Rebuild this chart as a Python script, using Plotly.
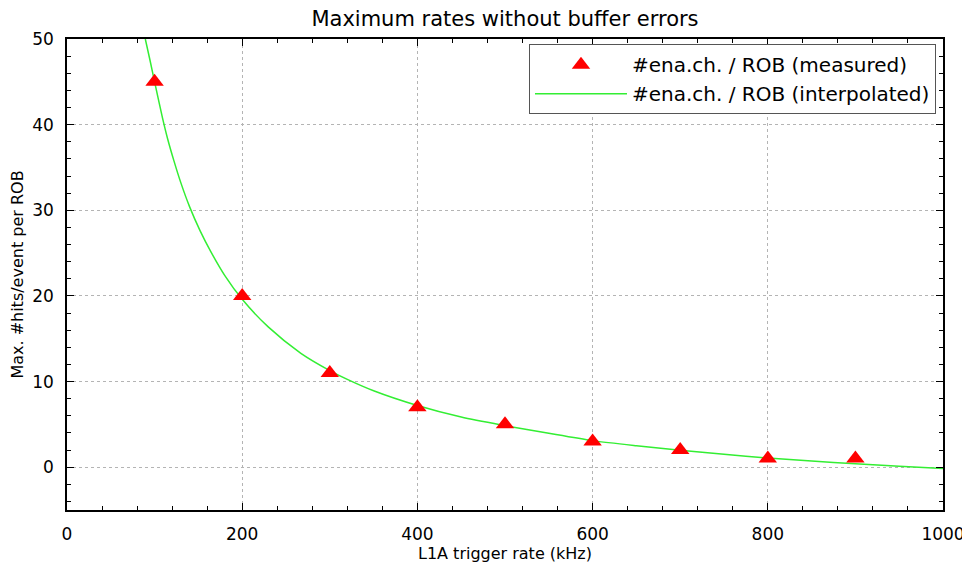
import plotly.graph_objects as go

# Measured points
rate_measured = [100, 200, 300, 400, 500, 600, 700, 800, 900]
hits_measured = [45, 20, 11, 7, 5, 3, 2, 1, 1]

# Interpolated curve
rate_interp = [89.4, 95, 100, 109, 115, 122, 130, 140, 152, 164, 180, 200, 230, 267, 300,
               320, 350, 400, 450, 500, 550, 600, 650, 700, 750, 800, 850, 900, 950, 1000]
hits_interp = [50.0, 47.4, 45.0, 40.8, 38.3, 35.8, 33.2, 30.4, 27.6, 25.2, 22.4, 19.6, 16.35, 13.3, 11.28,
               10.25, 8.92, 7.2, 5.85, 4.85, 3.95, 3.1, 2.5, 1.98, 1.5, 1.08, 0.72, 0.4, 0.1, -0.15]

title_text = "Maximum rates without buffer errors"
x_title = "L1A trigger rate (kHz)"
y_title = "Max. #hits/event per ROB"
name_measured = "#ena.ch. / ROB (measured)"
name_interp = "#ena.ch. / ROB (interpolated)"

FONT = "DejaVu Sans"

fig = go.Figure()
fig.add_trace(go.Scatter(
    x=rate_interp, y=hits_interp, mode="lines", name=name_interp,
    line=dict(color="#33ee33", width=1.5, shape="spline", smoothing=0.8),
))
fig.add_trace(go.Scatter(
    x=rate_measured, y=hits_measured, mode="markers", name=name_measured,
    marker=dict(symbol="triangle-up", size=16, color="#ff0000", line=dict(width=0)),
))

axis_common = dict(
    showline=True, linecolor="black", linewidth=1.5, mirror="ticks",
    ticks="inside", ticklen=7, tickwidth=1, tickcolor="black",
    showgrid=True, gridcolor="#b4b4b4", griddash="dot", gridwidth=1,
    zeroline=False, automargin=False,
    tickfont=dict(family=FONT, size=17, color="black"),
    ticklabelstandoff=8,
)

fig.update_xaxes(
    range=[0, 1000], dtick=200, tick0=0,
    minor=dict(dtick=40, ticks="inside", ticklen=4, tickcolor="black", showgrid=False),
    title=dict(text=x_title, font=dict(family=FONT, size=16, color="black"), standoff=4),
    **axis_common,
)
fig.update_yaxes(
    range=[-5, 50], dtick=10, tick0=0,
    minor=dict(dtick=2, ticks="inside", ticklen=4, tickcolor="black", showgrid=False),
    title=dict(text=y_title, font=dict(family=FONT, size=16, color="black"), standoff=6),
    **axis_common,
)

fig.update_layout(
    width=970, height=563,
    margin=dict(l=59, r=35, t=31, b=61, autoexpand=False),
    paper_bgcolor="white", plot_bgcolor="white",
    title=dict(text=title_text, x=0.5, xref="paper", y=1 - 11 / 563, yref="container",
               yanchor="middle", automargin=False,
               font=dict(family=FONT, size=21, color="black")),
    legend=dict(
        x=0.992, y=0.989, xanchor="right", yanchor="top",
        bgcolor="white", bordercolor="#555555", borderwidth=1,
        font=dict(family=FONT, size=20, color="black"),
        traceorder="reversed", itemwidth=92,
    ),
    showlegend=True,
)

fig.write_html("out.html")
